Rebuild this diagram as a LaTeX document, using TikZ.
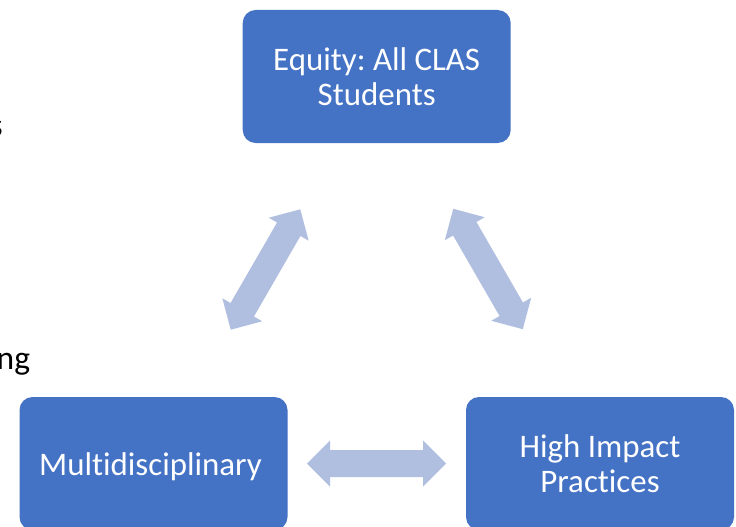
\documentclass[tikz,border=0pt]{standalone}
\usepackage{fontspec}
\setmainfont{Carlito}[Ligatures={NoCommon}]
\frenchspacing
\definecolor{boxblue}{HTML}{4472C4}
\definecolor{arrowblue}{HTML}{B0BEE0}
\tikzset{
  x=1pt, y=-1pt,
  boxnode/.style={fill=boxblue, draw=none, rounded corners=13pt,
    minimum width=268pt, minimum height=133pt, text=white, align=center,
    font=\fontsize{32.9pt}{35.5pt}\selectfont, inner sep=0pt},
  stray/.style={text=black, inner sep=0pt, font=\fontsize{33.5pt}{36pt}\selectfont},
  dblarrow/.pic={
    \fill[arrowblue] (-69.5,0) -- (-46.5,23) -- (-46.5,13.5) -- (46.5,13.5)
      -- (46.5,23) -- (69.5,0) -- (46.5,-23) -- (46.5,-13.5)
      -- (-46.5,-13.5) -- (-46.5,-23) -- cycle;
  }
}
\begin{document}
\begin{tikzpicture}
\useasboundingbox[fill=white] (0,0) rectangle (736,527);
\node[boxnode] (equity) at (376.7,76.5) {Equity: All CLAS\\Students};
\node[boxnode, text depth=0pt, text height=23pt] (multi) at (153.5,463.5) {Multidisciplinary\hspace*{6pt}};
\node[boxnode] (hip) at (600,463.5) {High Impact\\Practices};
\node[stray, anchor=base east] (sfrag) at (3,136) {s};
\node[stray, anchor=base east] (ngfrag) at (30.3,369) {ng};
\pic (a1) at (265.5,269.5) [rotate=60] {dblarrow};
\pic (a2) at (488,269) [rotate=-60] {dblarrow};
\pic (a3) at (376.5,463.5) {dblarrow};
\end{tikzpicture}
\end{document}
